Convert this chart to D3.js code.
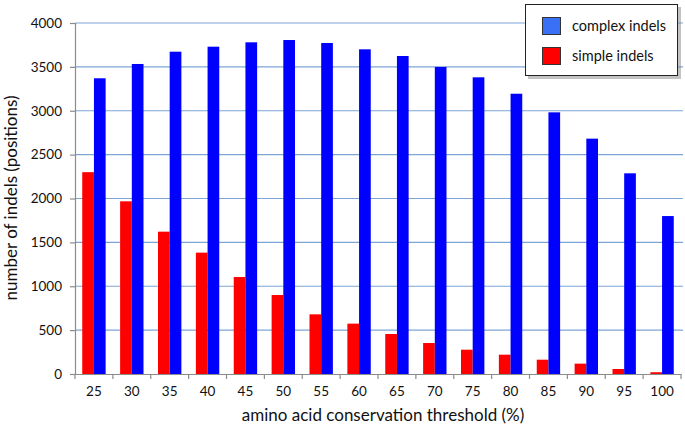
<!DOCTYPE html>
<html><head><meta charset="utf-8">
<script src="https://cdn.jsdelivr.net/npm/d3@7"></script>
<style>body{margin:0;background:#fff}svg{display:block}text{font-family:Lato,"Open Sans",sans-serif}</style>
</head><body><svg id="c" width="685" height="430"></svg>
<script>
const categories = ["25","30","35","40","45","50","55","60","65","70","75","80","85","90","95","100"];
const simpleIndels = [2300,1968,1622,1383,1105,900,680,574,456,353,277,220,163,118,57,20];
const complexIndels = [3370,3533,3673,3730,3780,3806,3772,3700,3624,3499,3381,3194,2982,2682,2287,1800];
const yTicks = [0,500,1000,1500,2000,2500,3000,3500,4000];
const seriesNames = ["simple indels","complex indels"];
const seriesColors = {"simple indels":"#ff0000","complex indels":"#0000ff"};
const legendColors = {"complex indels":"#3a70f5","simple indels":"#ff0000"};

const svg = d3.select("#c");
const m = {l:75, r:4, t:23, b:56};
const W = 685, H = 430;
const x = d3.scaleBand().domain(categories).range([m.l, W-m.r]).paddingInner(0).paddingOuter(0);
const x1 = d3.scaleBand().domain(seriesNames).range([0, x.bandwidth()]).paddingInner(0).paddingOuter(0.62);
const y = d3.scaleLinear().domain([0,4000]).range([H-m.b, m.t]);
const FONT = "Lato,'Open Sans',sans-serif";

// gridlines
svg.append("g").selectAll("line").data(yTicks.filter(d=>d>0)).join("line")
  .attr("x1", m.l).attr("x2", W-m.r+2).attr("y1", d=>y(d)).attr("y2", d=>y(d))
  .attr("stroke", "#7ea5d8").attr("stroke-width", 1.2);

// bars
const data = categories.map((c,i)=>({c, vals:[{s:"simple indels", v:simpleIndels[i]},{s:"complex indels", v:complexIndels[i]}]}));
const g = svg.append("g").selectAll("g").data(data).join("g").attr("transform", d=>`translate(${x(d.c)},0)`);
g.selectAll("rect").data(d=>d.vals).join("rect")
  .attr("x", d=>x1(d.s)).attr("width", x1.bandwidth())
  .attr("y", d=>y(d.v)).attr("height", d=>y(0)-y(d.v))
  .attr("fill", d=>seriesColors[d.s]);

// y axis
const ya = svg.append("g").attr("transform", `translate(${m.l},0)`)
  .call(d3.axisLeft(y).tickValues(yTicks).tickSize(5).tickPadding(8).tickFormat(d3.format("d")));
ya.select(".domain").attr("stroke","#8c8c8c").attr("stroke-width",1.2);
ya.selectAll(".tick line").attr("stroke","#8c8c8c").attr("stroke-width",1.2);
ya.selectAll("text").attr("font-size",13.5).attr("fill","#111").style("font-family",FONT);

// x axis with ticks at band boundaries
const xa = svg.append("g").attr("transform", `translate(0,${y(0)})`)
  .call(d3.axisBottom(x).tickSize(0).tickPadding(12));
xa.select(".domain").attr("stroke","#8c8c8c").attr("stroke-width",1.2);
xa.selectAll("text").attr("font-size",13.5).attr("fill","#111").style("font-family",FONT);
const bounds = categories.map(c=>x(c)).concat([x(categories[categories.length-1])+x.bandwidth()]);
xa.append("g").selectAll("line").data(bounds).join("line")
  .attr("x1", d=>d).attr("x2", d=>d).attr("y1",0).attr("y2",5)
  .attr("stroke","#8c8c8c").attr("stroke-width",1.2);

// axis titles
svg.append("text").attr("x", 383).attr("y", 421).attr("text-anchor","middle")
  .attr("font-size",17).attr("fill","#111").text("amino acid conservation threshold (%)");
svg.append("text").attr("transform","translate(17,198) rotate(-90)").attr("text-anchor","middle")
  .attr("font-size",17).attr("fill","#111").text("number of indels (positions)");

// legend
const lg = svg.append("g");
lg.append("rect").attr("x",528).attr("y",7).attr("width",153).attr("height",72).attr("fill","#888").attr("opacity",0.5);
lg.append("rect").attr("x",525.5).attr("y",4.5).attr("width",152).attr("height",71).attr("fill","#fff").attr("stroke","#222").attr("stroke-width",1);
const legendItems = ["complex indels","simple indels"];
legendItems.forEach((s,i)=>{
  lg.append("rect").attr("x",542.5).attr("y",17.5+i*30).attr("width",18).attr("height",17)
    .attr("fill",legendColors[s]).attr("stroke","#333").attr("stroke-width",1);
  lg.append("text").attr("x",572).attr("y",31+i*30).attr("font-size",14.5).attr("fill","#111").text(s);
});
</script></body></html>
